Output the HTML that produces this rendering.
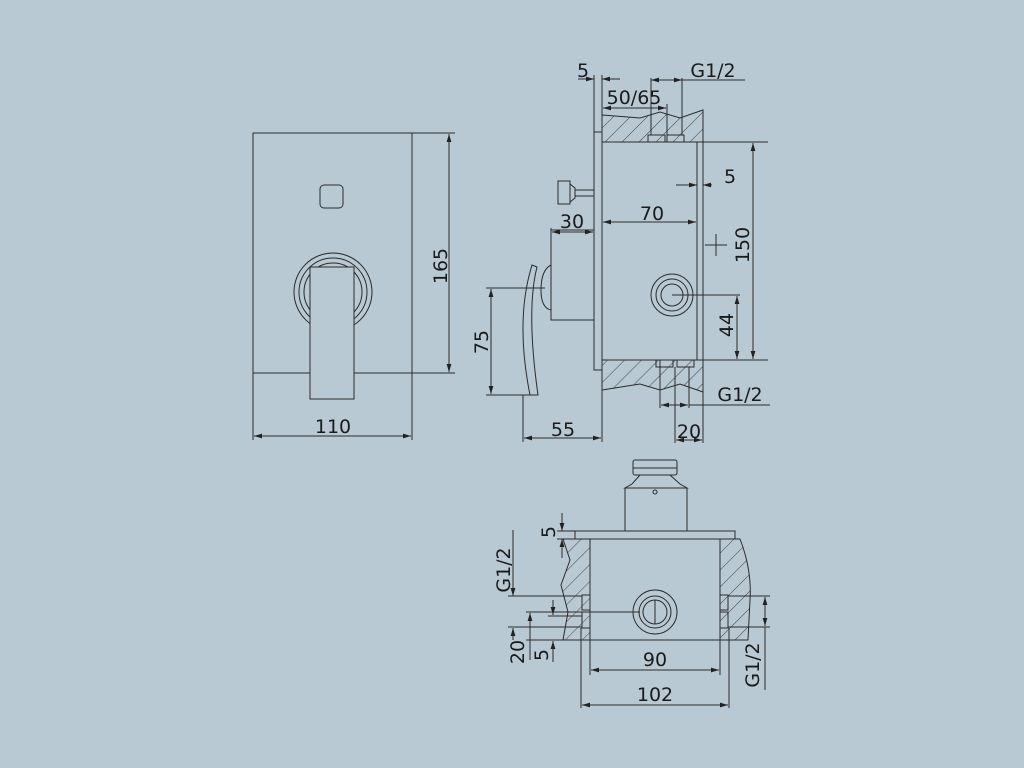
<!DOCTYPE html>
<html><head><meta charset="utf-8"><style>
html,body{margin:0;padding:0;background:#b9c9d4;}
svg{display:block}
text{font-family:"DejaVu Sans","Liberation Sans",sans-serif;font-size:19px;fill:#1a1a1a}
</style></head><body>
<svg width="1024" height="768" viewBox="0 0 1024 768" xmlns="http://www.w3.org/2000/svg">
<defs>
<pattern id="h" patternUnits="userSpaceOnUse" width="12" height="12" patternTransform="rotate(45)">
<line x1="0" y1="0" x2="0" y2="12" stroke="#333" stroke-width="0.9"/>
</pattern>
<marker id="a" viewBox="0 0 10 10" refX="10" refY="5" markerWidth="8" markerHeight="8" orient="auto-start-reverse"><path d="M0,2 L10,5 L0,8z" fill="#222"/></marker>
</defs>
<rect width="1024" height="768" fill="#b9c9d4"/>
<g fill="none" stroke="#2a2a2a" stroke-width="1">
<!-- front view -->
<rect x="253" y="133" width="159" height="240"/>
<rect x="320" y="185" width="23" height="23" rx="4"/>
<circle cx="333" cy="292" r="39"/>
<circle cx="333" cy="292" r="34"/>
<circle cx="333" cy="292" r="29"/>
<rect x="310" y="267" width="44" height="132" fill="#b9c9d4"/>
<line x1="412" y1="133" x2="455" y2="133"/>
<line x1="412" y1="373" x2="455" y2="373"/>
<line x1="449" y1="134" x2="449" y2="372" marker-start="url(#a)" marker-end="url(#a)"/>
<line x1="253" y1="373" x2="253" y2="440"/>
<line x1="412" y1="373" x2="412" y2="440"/>
<line x1="254" y1="436" x2="411" y2="436" marker-start="url(#a)" marker-end="url(#a)"/>

<!-- side view walls -->
<path d="M602,115 L640,118 L660,112 L680,118 L703,110 L703,142 L602,142z" fill="url(#h)"/>
<path d="M602,360 L703,360 L703,392 L680,384 L660,390 L640,384 L602,390z" fill="url(#h)"/>
<rect x="594" y="132" width="8" height="238"/>
<rect x="602" y="142" width="95" height="218"/>
<line x1="703" y1="142" x2="703" y2="360"/>
<line x1="697" y1="142" x2="768" y2="142"/>
<line x1="697" y1="360" x2="768" y2="360"/>
<rect x="648" y="135" width="17" height="7"/><rect x="667" y="135" width="17" height="7"/>
<rect x="656" y="360" width="17" height="7"/><rect x="677" y="360" width="17" height="7"/>
<rect x="558" y="181" width="12" height="23"/><path d="M570,184 L575,188 L575,198 L570,202"/>
<line x1="575" y1="190" x2="594" y2="190"/><line x1="575" y1="196" x2="594" y2="196"/>
<path d="M594,230 L551,230 L551,320 L594,320"/>
<path d="M551,265 Q541,270 541,290 Q541,308 551,310"/>
<path d="M532,265 L537,267 Q526,310 538,395 L530,395 Q515,320 532,265z"/>
<circle cx="672" cy="295" r="21"/><circle cx="672" cy="295" r="16"/><circle cx="672" cy="295" r="11"/>
<line x1="672" y1="295" x2="740" y2="295"/>
<line x1="716" y1="234" x2="716" y2="256"/><line x1="705" y1="245" x2="727" y2="245"/>
<!-- side dims -->
<line x1="594" y1="75" x2="594" y2="132"/><line x1="602" y1="75" x2="602" y2="132"/>
<line x1="578" y1="79" x2="594" y2="79" marker-end="url(#a)"/><line x1="620" y1="79" x2="602" y2="79" marker-end="url(#a)"/>
<line x1="651" y1="78" x2="651" y2="135"/><line x1="682" y1="78" x2="682" y2="135"/>
<line x1="651" y1="80" x2="682" y2="80" marker-start="url(#a)" marker-end="url(#a)"/><line x1="682" y1="80" x2="745" y2="80"/>
<line x1="667" y1="104" x2="667" y2="135"/>
<line x1="603" y1="108" x2="666" y2="108" marker-start="url(#a)" marker-end="url(#a)"/>
<line x1="603" y1="222" x2="696" y2="222" marker-start="url(#a)" marker-end="url(#a)"/>
<line x1="676" y1="185" x2="697" y2="185" marker-end="url(#a)"/><line x1="712" y1="185" x2="703" y2="185" marker-end="url(#a)"/>
<line x1="753" y1="143" x2="753" y2="359" marker-start="url(#a)" marker-end="url(#a)"/>
<line x1="737" y1="296" x2="737" y2="359" marker-start="url(#a)" marker-end="url(#a)"/>
<line x1="551" y1="228" x2="551" y2="238"/>
<line x1="552" y1="232" x2="593" y2="232" marker-start="url(#a)" marker-end="url(#a)"/>
<line x1="486" y1="288" x2="545" y2="288"/><line x1="486" y1="395" x2="538" y2="395"/>
<line x1="491" y1="289" x2="491" y2="394" marker-start="url(#a)" marker-end="url(#a)"/>
<line x1="523" y1="395" x2="523" y2="442"/><line x1="602" y1="370" x2="602" y2="442"/>
<line x1="524" y1="438" x2="601" y2="438" marker-start="url(#a)" marker-end="url(#a)"/>
<line x1="660" y1="360" x2="660" y2="408"/><line x1="689" y1="367" x2="689" y2="408"/>
<line x1="661" y1="405" x2="688" y2="405" marker-start="url(#a)" marker-end="url(#a)"/><line x1="689" y1="405" x2="770" y2="405"/>
<line x1="675" y1="367" x2="675" y2="443"/><line x1="703" y1="392" x2="703" y2="443"/>
<line x1="676" y1="440" x2="702" y2="440" marker-start="url(#a)" marker-end="url(#a)"/>

<!-- bottom view -->
<rect x="633" y="460" width="44" height="15" rx="2"/><line x1="633" y1="468" x2="677" y2="468"/>
<path d="M640,475 L670,475 L680,484 L687,488 L625,488 L632,484z"/>
<rect x="625" y="488" width="62" height="43"/>
<circle cx="655" cy="492" r="2"/>
<rect x="575" y="531" width="160" height="8"/>
<path d="M563,539 L590,539 L590,640 L563,640 L568,612 L561,585 L570,560z" fill="url(#h)"/>
<path d="M720,539 L740,539 Q752,570 750,600 L748,640 L720,640z" fill="url(#h)"/>
<rect x="590" y="539" width="130" height="101"/>
<rect x="582" y="595" width="8" height="15"/><rect x="582" y="612" width="8" height="16"/>
<rect x="720" y="595" width="8" height="15"/><rect x="720" y="612" width="8" height="16"/>
<circle cx="655" cy="612" r="22"/><circle cx="655" cy="612" r="16"/><circle cx="655" cy="612" r="12"/>
<line x1="655" y1="600" x2="655" y2="624"/>
<!-- bottom dims -->
<line x1="591" y1="670" x2="719" y2="670" marker-start="url(#a)" marker-end="url(#a)"/>
<line x1="590" y1="640" x2="590" y2="675"/><line x1="720" y1="640" x2="720" y2="675"/>
<line x1="581" y1="628" x2="581" y2="708"/><line x1="729" y1="628" x2="729" y2="708"/>
<line x1="582" y1="705" x2="728" y2="705" marker-start="url(#a)" marker-end="url(#a)"/>
<line x1="557" y1="531" x2="575" y2="531"/><line x1="557" y1="539" x2="563" y2="539"/>
<line x1="562" y1="513" x2="562" y2="531" marker-end="url(#a)"/><line x1="562" y1="558" x2="562" y2="539" marker-end="url(#a)"/>
<line x1="513" y1="530" x2="513" y2="596" marker-end="url(#a)"/><line x1="513" y1="627" x2="513" y2="627"/>
<line x1="513" y1="640" x2="513" y2="628" marker-end="url(#a)"/>
<line x1="508" y1="596" x2="582" y2="596"/><line x1="508" y1="627" x2="582" y2="627"/>
<line x1="526" y1="612" x2="640" y2="612"/><line x1="548" y1="616" x2="582" y2="616"/>
<line x1="526" y1="640" x2="590" y2="640"/>
<line x1="530" y1="660" x2="530" y2="613" marker-end="url(#a)"/>
<line x1="553" y1="662" x2="553" y2="641" marker-end="url(#a)"/><line x1="553" y1="600" x2="553" y2="615" marker-end="url(#a)"/>
<line x1="728" y1="596" x2="770" y2="596"/><line x1="728" y1="627" x2="770" y2="627"/>
<line x1="765" y1="597" x2="765" y2="626" marker-start="url(#a)" marker-end="url(#a)"/><line x1="765" y1="627" x2="765" y2="690"/>
</g>
<g>
<text x="433" y="252" transform="rotate(-90 447 252)" text-anchor="middle">165</text>
<text x="333" y="433" text-anchor="middle">110</text>
<text x="583" y="77" text-anchor="middle">5</text>
<text x="713" y="77" text-anchor="middle">G1/2</text>
<text x="634" y="104" text-anchor="middle">50/65</text>
<text x="652" y="220" text-anchor="middle">70</text>
<text x="730" y="183" text-anchor="middle">5</text>
<text x="572" y="228" text-anchor="middle">30</text>
<text x="749" y="245" transform="rotate(-90 749 245)" text-anchor="middle">150</text>
<text x="733" y="325" transform="rotate(-90 733 325)" text-anchor="middle">44</text>
<text x="488" y="342" transform="rotate(-90 488 342)" text-anchor="middle">75</text>
<text x="563" y="436" text-anchor="middle">55</text>
<text x="740" y="401" text-anchor="middle">G1/2</text>
<text x="689" y="438" text-anchor="middle">20</text>
<text x="655" y="666" text-anchor="middle">90</text>
<text x="655" y="701" text-anchor="middle">102</text>
<text x="555" y="532" transform="rotate(-90 555 532)" text-anchor="middle">5</text>
<text x="510" y="570" transform="rotate(-90 510 570)" text-anchor="middle">G1/2</text>
<text x="524" y="652" transform="rotate(-90 524 652)" text-anchor="middle">20</text>
<text x="548" y="655" transform="rotate(-90 548 655)" text-anchor="middle">5</text>
<text x="759" y="665" transform="rotate(-90 759 665)" text-anchor="middle">G1/2</text>
</g>
</svg>
</body></html>
